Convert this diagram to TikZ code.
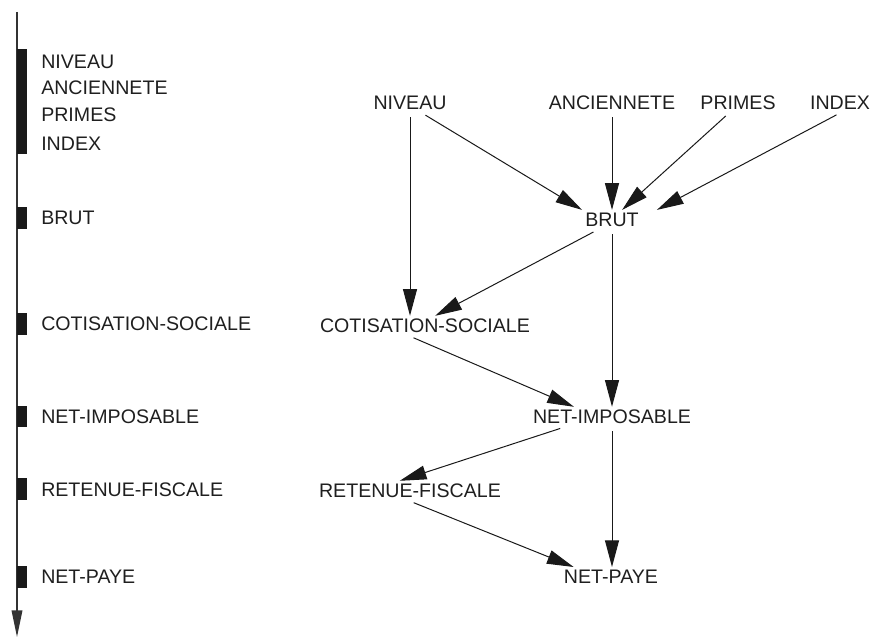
\documentclass[tikz,border=0pt]{standalone}
\usepackage{fontspec}
\setmainfont{Liberation Sans}
\usetikzlibrary{arrows.meta,calc}

\tikzset{
  lbl/.style={font=\fontsize{14.7}{17}\selectfont, inner sep=2.25pt, text=black!88},
  dep/.style={-{Triangle[length=20pt,width=10.5pt]}, line width=0.75pt, black!90, shorten <=3pt},
}

\begin{document}
\begin{tikzpicture}[x=0.75pt,y=-0.75pt]
\useasboundingbox (0,0) rectangle (872,638);
% time axis with the computation steps
\coordinate (axtop) at (17,12);
\coordinate (axbot) at (17,637);
\draw[line width=1pt, black!80, -{Triangle[length=20pt,width=8pt]}] (axtop) -- (axbot);
\foreach \a/\b in {49/154,207/229,313/335,406/427,478/500,566/588} {
  \fill[black!90] (17,\a) rectangle (27,\b);
}
\foreach \y/\l/\n in {62/NIVEAU/tniv,88/ANCIENNETE/tanc,115/PRIMES/tpri,144/INDEX/tind,
    218/BRUT/tbru,324/COTISATION-SOCIALE/tcot,417/NET-IMPOSABLE/timp,490/RETENUE-FISCALE/tret,577/NET-PAYE/tpay} {
  \node[lbl, anchor=west, inner sep=0pt] (\n) at (41,\y) {\l};
}
% dependency graph
\node[lbl] (niveau) at (410,103) {NIVEAU};
\node[lbl] (ancien) at (612,103) {ANCIENNETE};
\node[lbl] (primes) at (738,103) {PRIMES};
\node[lbl] (index) at (840,103) {INDEX};
\node[lbl] (brut) at (612,220) {BRUT};
\node[lbl] (cotis) at (425,326) {COTISATION-SOCIALE};
\node[lbl] (netimp) at (612,417) {NET-IMPOSABLE};
\node[lbl] (retenue) at (410,491) {RETENUE-FISCALE};
\node[lbl] (netpaye) at (611,577) {NET-PAYE};

\draw[dep] (niveau.south) -- (niveau.south |- cotis.north);
\draw[dep] (niveau.-40) -- (brut.north west);
\draw[dep] (ancien.south) -- (brut.north);
\draw[dep] (primes.228) -- (brut.45);
\draw[dep] (index.south) -- ($(brut.north east)+(15,0)$);
\draw[dep] (brut.214) -- (cotis.45);
\draw[dep] (brut.south) -- (netimp.north);
\draw[dep] (cotis.214) -- (netimp.165);
\draw[dep] (netimp.192) -- (retenue.135);
\draw[dep] (netimp.south) -- (netimp.south |- netpaye.north);
\draw[dep] (retenue.south) -- (netpaye.165);
\end{tikzpicture}
\end{document}
